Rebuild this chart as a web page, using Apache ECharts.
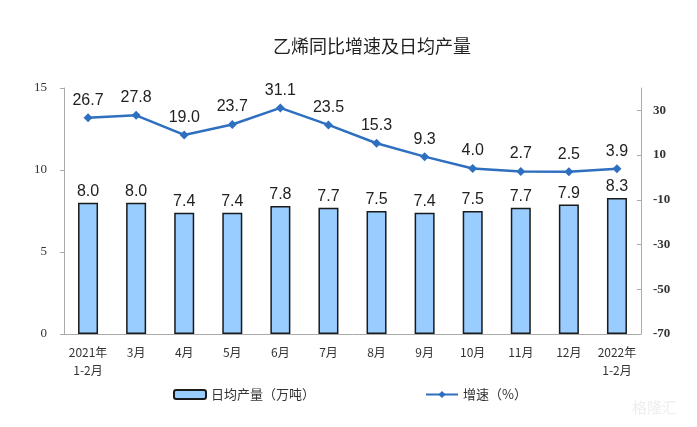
<!DOCTYPE html>
<html><head><meta charset="utf-8">
<script src="https://cdn.jsdelivr.net/npm/echarts@6/dist/echarts.min.js"></script>
<style>html,body{margin:0;padding:0;background:#fff}#c{width:697px;height:427px}</style>
</head><body><div id="c"></div>
<script>
var categories = ['2021年\n1-2月','3月','4月','5月','6月','7月','8月','9月','10月','11月','12月','2022年\n1-2月'];
var dailyOutput = [8.0, 8.0, 7.4, 7.4, 7.8, 7.7, 7.5, 7.4, 7.5, 7.7, 7.9, 8.3];
var growthRate = [26.7, 27.8, 19.0, 23.7, 31.1, 23.5, 15.3, 9.3, 4.0, 2.7, 2.5, 3.9];
var leftTicks = [0, 5, 10, 15];
var rightTicks = [-70, -50, -30, -10, 10, 30];

var chart = echarts.init(document.getElementById('c'));
chart.setOption({
  animation: false,
  title: {
    text: '乙烯同比增速及日均产量', left: 367, top: 32, textAlign: 'center',
    textStyle: {fontFamily: 'Noto Sans CJK SC', fontSize: 18, fontWeight: 'normal', color: '#222'}
  },
  legend: {
    left: 168, top: 383, itemWidth: 32, itemHeight: 9, itemGap: 110,
    textStyle: {fontFamily: 'Noto Sans CJK SC', fontSize: 13, color: '#333'},
    data: ['日均产量（万吨）', '增速（%）']
  },
  grid: {left: 64, right: 56, top: 88, bottom: 93},
  xAxis: {
    type: 'category', data: categories,
    axisLine: {lineStyle: {color: '#aaa'}},
    axisTick: {inside: true, length: 4, lineStyle: {color: '#aaa'}},
    axisLabel: {fontFamily: 'Noto Sans CJK SC', fontSize: 12, color: '#333', margin: 9, lineHeight: 18, interval: 0}
  },
  yAxis: [{
    type: 'value', min: 0, max: 15, interval: 5,
    splitLine: {show: false},
    axisLine: {show: true, lineStyle: {color: '#aaa'}},
    axisTick: {show: true, length: 4, lineStyle: {color: '#aaa'}, customValues: leftTicks},
    axisLabel: {fontFamily: 'Liberation Serif', fontSize: 13, color: '#333', margin: 17, customValues: leftTicks}
  }, {
    type: 'value', min: -70, max: 40, interval: 20, position: 'right',
    splitLine: {show: false},
    axisLine: {show: true, lineStyle: {color: '#aaa'}},
    axisTick: {show: true, inside: true, length: 4, lineStyle: {color: '#aaa'}, customValues: rightTicks},
    axisLabel: {fontFamily: 'Liberation Serif', fontSize: 13, fontWeight: 'bold', color: '#333', margin: 12, customValues: rightTicks}
  }],
  series: [{
    name: '日均产量（万吨）', type: 'bar', data: dailyOutput, barWidth: 20,
    itemStyle: {color: '#99CCFF', borderColor: '#1a1a1a', borderWidth: 1.5},
    label: {show: true, position: 'top', distance: 3, formatter: function(p){return p.value.toFixed(1);},
      fontFamily: 'Liberation Sans', fontSize: 16, color: '#222'}
  }, {
    name: '增速（%）', type: 'line', yAxisIndex: 1, data: growthRate,
    symbol: 'diamond', symbolSize: 9,
    lineStyle: {color: '#2E6FC0', width: 2.5},
    itemStyle: {color: '#2E6FC0'},
    label: {show: true, position: 'top', distance: 5, formatter: function(p){return p.value.toFixed(1);},
      fontFamily: 'Liberation Sans', fontSize: 16, color: '#222'}
  }],
  graphic: [{
    type: 'text', right: 20, top: 400,
    style: {text: '格隆汇', fontFamily: 'Noto Sans CJK SC', fontSize: 15, fill: '#eeeeee'}
  }]
});
</script></body></html>
